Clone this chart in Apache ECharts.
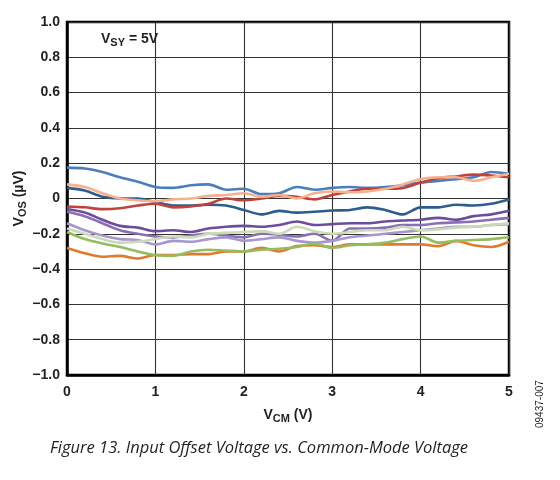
<!DOCTYPE html>
<html>
<head>
<meta charset="utf-8">
<script src="https://cdn.jsdelivr.net/npm/echarts@6/dist/echarts.min.js"></script>
<style>
  html, body { margin: 0; padding: 0; background: #fff; }
  #chart { width: 560px; height: 480px; }
</style>
</head>
<body>
<div id="chart"></div>
<script>
var chart = echarts.init(document.getElementById('chart'), null, {renderer: 'canvas'});

// V_CM sample points (V)
var vcm = [0, 0.2, 0.4, 0.6, 0.8, 1.0, 1.2, 1.4, 1.6, 1.8, 2.0, 2.2, 2.4, 2.6, 2.8,
           3.0, 3.2, 3.4, 3.6, 3.8, 4.0, 4.2, 4.4, 4.6, 4.8, 5.0];

// VOS readings (uV), one per unit
var lightBlue  = [0.175, 0.17, 0.15, 0.12, 0.095, 0.065, 0.06, 0.075, 0.08, 0.05, 0.055, 0.025, 0.03,
                  0.065, 0.05, 0.06, 0.065, 0.06, 0.065, 0.075, 0.09, 0.1, 0.11, 0.12, 0.15, 0.14];
var darkBlue   = [0.06, 0.045, 0.01, 0.0, 0.0, -0.02, -0.04, -0.04, -0.035, -0.04, -0.065, -0.09, -0.07,
                  -0.08, -0.075, -0.068, -0.065, -0.05, -0.065, -0.09, -0.05, -0.05, -0.035, -0.04, -0.03, -0.005];
var salmon     = [0.08, 0.065, 0.03, 0.0, -0.01, -0.015, -0.005, 0.0, 0.015, 0.02, 0.03, 0.01, 0.02,
                  0.0, 0.03, 0.04, 0.035, 0.04, 0.055, 0.08, 0.11, 0.12, 0.12, 0.1, 0.12, 0.14];
var red        = [-0.045, -0.05, -0.06, -0.055, -0.04, -0.03, -0.05, -0.045, -0.03, 0.0, -0.01, 0.0, 0.015,
                  0.01, -0.005, 0.02, 0.04, 0.055, 0.055, 0.06, 0.09, 0.115, 0.125, 0.135, 0.13, 0.12];
var darkPurple = [-0.06, -0.08, -0.12, -0.155, -0.165, -0.185, -0.18, -0.19, -0.17, -0.16, -0.155, -0.16, -0.15,
                  -0.13, -0.15, -0.145, -0.14, -0.14, -0.13, -0.125, -0.12, -0.11, -0.12, -0.1, -0.09, -0.07];
var midPurple  = [-0.075, -0.1, -0.14, -0.18, -0.2, -0.215, -0.22, -0.21, -0.2, -0.21, -0.22, -0.2, -0.205,
                  -0.215, -0.2, -0.24, -0.17, -0.17, -0.165, -0.15, -0.15, -0.14, -0.135, -0.13, -0.12, -0.11];
var lavender   = [-0.14, -0.18, -0.21, -0.23, -0.235, -0.26, -0.24, -0.245, -0.23, -0.22, -0.24, -0.23, -0.22,
                  -0.24, -0.25, -0.24, -0.22, -0.21, -0.2, -0.19, -0.18, -0.17, -0.16, -0.16, -0.15, -0.145];
var paleGreen  = [-0.17, -0.2, -0.23, -0.25, -0.245, -0.23, -0.215, -0.22, -0.2, -0.195, -0.19, -0.185, -0.2,
                  -0.16, -0.185, -0.2, -0.19, -0.18, -0.18, -0.16, -0.18, -0.175, -0.165, -0.16, -0.15, -0.14];
var green      = [-0.19, -0.23, -0.255, -0.275, -0.3, -0.32, -0.325, -0.3, -0.29, -0.295, -0.3, -0.29, -0.285,
                  -0.275, -0.255, -0.28, -0.265, -0.26, -0.25, -0.23, -0.215, -0.25, -0.24, -0.235, -0.23, -0.22];
var orange     = [-0.28, -0.31, -0.33, -0.325, -0.34, -0.32, -0.32, -0.315, -0.315, -0.3, -0.3, -0.28, -0.3,
                  -0.27, -0.265, -0.275, -0.26, -0.26, -0.26, -0.26, -0.26, -0.27, -0.24, -0.265, -0.275, -0.245];

var units = [
  {data: lightBlue,  color: '#4a7ebf'},
  {data: darkBlue,   color: '#2c5d8e'},
  {data: red,        color: '#c0433b'},
  {data: salmon,     color: '#f7b08e'},
  {data: darkPurple, color: '#6c4d9b'},
  {data: midPurple,  color: '#8b6fb5'},
  {data: lavender,   color: '#a797cf'},
  {data: orange,     color: '#e07a2c'},
  {data: green,      color: '#93bd5f'},
  {data: paleGreen,  color: '#c9dbb7'}
];

function pair(arr) {
  return vcm.map(function (x, i) { return [x, arr[i]]; });
}

var seriesList = units.map(function (u) {
  return {
    type: 'line',
    data: pair(u.data),
    smooth: 0.3,
    symbol: 'none',
    lineStyle: {color: u.color, width: 2.6},
    silent: true
  };
});

var FONT = 'Liberation Sans, Arial, sans-serif';
var tickFont = {fontFamily: FONT, fontWeight: 'bold', fontSize: 14, color: '#231f20'};
var subRich = {
  v: {fontFamily: FONT, fontWeight: 'bold', fontSize: 14, color: '#231f20', lineHeight: 18},
  s: {fontFamily: FONT, fontWeight: 'bold', fontSize: 11, color: '#231f20', verticalAlign: 'bottom', lineHeight: 12}
};

chart.setOption({
  animation: false,
  grid: {left: 67, right: 51, top: 22, bottom: 105, outerBoundsMode: 'none',
         show: true, borderColor: '#000', borderWidth: 2.5},
  xAxis: {
    type: 'value', min: 0, max: 5, interval: 1,
    axisLine: {show: true, onZero: false, lineStyle: {color: '#000', width: 2.5}},
    axisTick: {show: false},
    splitLine: {lineStyle: {color: '#333', width: 1.1}},
    axisLabel: Object.assign({margin: 10}, tickFont),
    name: '{v|V}{s|CM}{v| (V)}',
    nameLocation: 'middle',
    nameGap: 31,
    nameMoveOverlap: false,
    nameTextStyle: {rich: subRich}
  },
  yAxis: {
    type: 'value', min: -1, max: 1, interval: 0.2,
    axisLine: {show: true, onZero: false, lineStyle: {color: '#000', width: 2.5}},
    axisTick: {show: false},
    splitLine: {lineStyle: {color: '#333', width: 1.1}},
    axisLabel: Object.assign({
      margin: 7,
      formatter: function (v) {
        if (Math.abs(v) < 1e-9) return '0';
        return (v < 0 ? '\u2212' : '') + Math.abs(v).toFixed(1);
      }
    }, tickFont),
    name: '{v|V}{s|OS}{v| (\u00b5V)}',
    nameLocation: 'middle',
    nameRotate: 90,
    nameGap: 39,
    nameMoveOverlap: false,
    nameTextStyle: {rich: subRich}
  },
  graphic: [
    {
      type: 'text', left: 101, top: 32, z: 10,
      style: {
        text: '{v|V}{s|SY}{v| = 5V}',
        rich: {
          v: {fontFamily: FONT, fontWeight: 'bold', fontSize: 14, fill: '#231f20', lineHeight: 18},
          s: {fontFamily: FONT, fontWeight: 'bold', fontSize: 11, fill: '#231f20', verticalAlign: 'bottom', lineHeight: 12}
        }
      }
    },
    {
      type: 'text', x: 259, y: 448,
      style: {
        text: 'Figure 13. Input Offset Voltage vs. Common-Mode Voltage',
        align: 'center', verticalAlign: 'middle',
        fontFamily: 'Open Sans, Lato, sans-serif', fontStyle: 'italic', fontSize: 16.5, fill: '#231f20'
      }
    },
    {
      type: 'text', x: 535, y: 428, rotation: Math.PI / 2,
      style: {
        text: '09437-007',
        fontFamily: FONT, fontSize: 10, fill: '#231f20'
      }
    }
  ],
  series: seriesList
});
</script>
</body>
</html>
